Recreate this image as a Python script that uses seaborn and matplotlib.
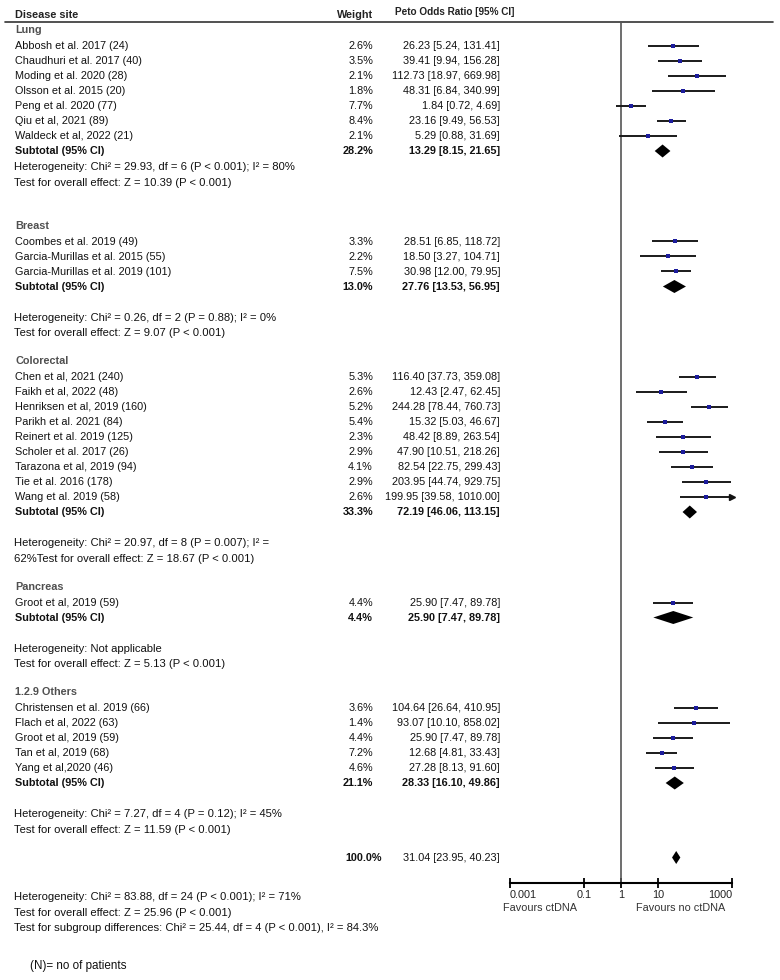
import numpy as np
import pandas as pd
import seaborn as sns
import matplotlib.pyplot as plt
from matplotlib.ticker import NullLocator

# -------------------------------
# Style
# -------------------------------
sns.set_theme(style="white")
plt.rcParams['font.family'] = ['Liberation Sans', 'DejaVu Sans']

# -------------------------------
# Data
# -------------------------------
sites = ["Lung", "Breast", "Colorectal", "Pancreas", "1.2.9 Others"]

study_site = (["Lung"] * 7 + ["Breast"] * 3 + ["Colorectal"] * 9
              + ["Pancreas"] * 1 + ["1.2.9 Others"] * 5)

study_names = [
    "Abbosh et al. 2017 (24)", "Chaudhuri et al. 2017 (40)", "Moding et al. 2020 (28)",
    "Olsson et al. 2015 (20)", "Peng et al. 2020 (77)", "Qiu et al, 2021 (89)",
    "Waldeck et al, 2022 (21)",
    "Coombes et al. 2019 (49)", "Garcia-Murillas et al. 2015 (55)",
    "Garcia-Murillas et al. 2019 (101)",
    "Chen et al, 2021 (240)", "Faikh et al, 2022 (48)", "Henriksen et al, 2019 (160)",
    "Parikh et al. 2021 (84)", "Reinert et al. 2019 (125)", "Scholer et al. 2017 (26)",
    "Tarazona et al, 2019 (94)", "Tie et al. 2016 (178)", "Wang et al. 2019 (58)",
    "Groot et al, 2019 (59)",
    "Christensen et al. 2019 (66)", "Flach et al, 2022 (63)", "Groot et al, 2019 (59)",
    "Tan et al, 2019 (68)", "Yang et al,2020 (46)",
]
study_weight = [2.6, 3.5, 2.1, 1.8, 7.7, 8.4, 2.1,
                3.3, 2.2, 7.5,
                5.3, 2.6, 5.2, 5.4, 2.3, 2.9, 4.1, 2.9, 2.6,
                4.4,
                3.6, 1.4, 4.4, 7.2, 4.6]
study_or = [26.23, 39.41, 112.73, 48.31, 1.84, 23.16, 5.29,
            28.51, 18.50, 30.98,
            116.40, 12.43, 244.28, 15.32, 48.42, 47.90, 82.54, 203.95, 199.95,
            25.90,
            104.64, 93.07, 25.90, 12.68, 27.28]
study_lo = [5.24, 9.94, 18.97, 6.84, 0.72, 9.49, 0.88,
            6.85, 3.27, 12.00,
            37.73, 2.47, 78.44, 5.03, 8.89, 10.51, 22.75, 44.74, 39.58,
            7.47,
            26.64, 10.10, 7.47, 4.81, 8.13]
study_hi = [131.41, 156.28, 669.98, 340.99, 4.69, 56.53, 31.69,
            118.72, 104.71, 79.95,
            359.08, 62.45, 760.73, 46.67, 263.54, 218.26, 299.43, 929.75, 1010.00,
            89.78,
            410.95, 858.02, 89.78, 33.43, 91.60]

sub_weight = [28.2, 13.0, 33.3, 4.4, 21.1]
sub_or = [13.29, 27.76, 72.19, 25.90, 28.33]
sub_lo = [8.15, 13.53, 46.06, 7.47, 16.10]
sub_hi = [21.65, 56.95, 113.15, 89.78, 49.86]

het_text = [
    "Heterogeneity: Chi² = 29.93, df = 6 (P < 0.001); I² = 80%",
    "Heterogeneity: Chi² = 0.26, df = 2 (P = 0.88); I² = 0%",
    "Heterogeneity: Chi² = 20.97, df = 8 (P = 0.007); I² =",
    "Heterogeneity: Not applicable",
    "Heterogeneity: Chi² = 7.27, df = 4 (P = 0.12); I² = 45%",
]
test_text = [
    "Test for overall effect: Z = 10.39 (P < 0.001)",
    "Test for overall effect: Z = 9.07 (P < 0.001)",
    "62%Test for overall effect: Z = 18.67 (P < 0.001)",
    "Test for overall effect: Z = 5.13 (P < 0.001)",
    "Test for overall effect: Z = 11.59 (P < 0.001)",
]

total_weight = 100.0
total_or, total_lo, total_hi = 31.04, 23.95, 40.23
overall_text = [
    "Heterogeneity: Chi² = 83.88, df = 24 (P < 0.001); I² = 71%",
    "Test for overall effect: Z = 25.96 (P < 0.001)",
    "Test for subgroup differences: Chi² = 25.44, df = 4 (P < 0.001), I² = 84.3%",
]
axis_ticks = [0.001, 0.1, 1, 10, 1000]
axis_labels = ["0.001", "0.1", "1", "10", "1000"]

# -------------------------------
# Row layout (pixel rows, top-down)
# -------------------------------
FS = 7.8
FS_STAT = 8.1
ROW = 15.0
df = pd.DataFrame({"site": study_site, "study": study_names, "weight": study_weight,
                   "or": study_or, "lo": study_lo, "hi": study_hi})

y = 30.0
header_y, sub_y, het_y, test_y, study_y = [], [], [], [], []
for i, site in enumerate(sites):
    header_y.append(y)
    n = (df["site"] == site).sum()
    first = y + 16
    study_y += [first + ROW * k for k in range(n)]
    sub_y.append(first + ROW * n)
    het_y.append(sub_y[-1] + (16 if i == 0 else 31))
    test_y.append(het_y[-1] + 15.5)
    y = test_y[-1] + (43 if i == 0 else 28)
df["y"] = study_y
total_y = y
AX_Y = 883
TOP_Y = 22
XMIN, XMAX = axis_ticks[0], axis_ticks[-1]

# -------------------------------
# Figure
# -------------------------------
fig = plt.figure(figsize=(7.8, 9.8), dpi=100)
bax = fig.add_axes([0, 0, 1, 1])
bax.set_xlim(0, 780)
bax.set_ylim(980, 0)
bax.axis("off")


def put(x, yy, s, **kw):
    kw.setdefault("fontsize", FS)
    kw.setdefault("va", "center")
    kw.setdefault("color", "#111111")
    bax.text(x, yy, s, **kw)


def ci_label(o, l, h):
    return f"{o:.2f} [{l:.2f}, {h:.2f}]"


# header
put(15, 15, "Disease site", fontweight="bold", color="#222222")
put(355, 15, "Weight", ha="center", fontweight="bold", color="#222222")
put(395, 12, "Peto Odds Ratio [95% CI]", fontsize=7.2, fontweight="bold", color="#222222")
bax.plot([5, 773], [TOP_Y, TOP_Y], color="#333333", lw=1.2)

WX, ORX = 373, 500
for i, site in enumerate(sites):
    put(15, header_y[i], site, fontweight="bold", color="#505050")
    put(15, sub_y[i], "Subtotal (95% CI)", fontweight="bold")
    put(WX, sub_y[i], f"{sub_weight[i]:.1f}%", ha="right", fontweight="bold")
    put(ORX, sub_y[i], ci_label(sub_or[i], sub_lo[i], sub_hi[i]), ha="right", fontweight="bold")
    put(14, het_y[i], het_text[i], fontsize=FS_STAT)
    put(14, test_y[i], test_text[i], fontsize=FS_STAT)

for _, r in df.iterrows():
    put(15, r["y"], r["study"])
    put(WX, r["y"], f"{r['weight']:.1f}%", ha="right")
    put(ORX, r["y"], ci_label(r["or"], r["lo"], r["hi"]), ha="right")

put(382, total_y, f"{total_weight:.1f}%", ha="right", fontweight="bold")
put(ORX, total_y, ci_label(total_or, total_lo, total_hi), ha="right")

for k, t in enumerate(overall_text):
    put(14, 897 + 15.5 * k, t, fontsize=FS_STAT)
put(30, 966, "(N)= no of patients", fontsize=8.4)

put(540, 908, "Favours ctDNA", ha="center", color="#333333")
put(681, 908, "Favours no ctDNA", ha="center", color="#333333")

# -------------------------------
# Forest panel
# -------------------------------
fax = fig.add_axes([510 / 780, (980 - AX_Y) / 980, 222 / 780, (AX_Y - TOP_Y) / 980])
fax.patch.set_alpha(0)
fax.set_xscale("log")
fax.set_xlim(XMIN, XMAX)
fax.set_ylim(AX_Y, TOP_Y)

fax.axvline(1, color="#555555", lw=1.2, zorder=1)

df["hi_clip"] = df["hi"].clip(upper=XMAX)
fax.hlines(df["y"], df["lo"], df["hi_clip"], color="#1a1a1a", lw=1.4, zorder=2)
over = df[df["hi"] > XMAX]
fax.plot(over["hi_clip"], over["y"], marker=">", ms=5, color="#111111",
         linestyle="none", clip_on=False, zorder=3)

sns.scatterplot(data=df, x="or", y="y", marker="s", s=7, color="#1c1c9c",
                linewidth=0, ax=fax, zorder=4, legend=False)

H = 6.5
for o, l, h, yy in zip(sub_or + [total_or], sub_lo + [total_lo],
                       sub_hi + [total_hi], sub_y + [total_y]):
    fax.fill([l, o, h, o], [yy, yy - H, yy, yy + H], color="black", lw=0, zorder=3)

for side in ["top", "left", "right"]:
    fax.spines[side].set_visible(False)
fax.spines["bottom"].set_color("black")
fax.spines["bottom"].set_linewidth(1.5)
fax.set_yticks([])
fax.set_xticks(axis_ticks)
fax.set_xticklabels(axis_labels)
fax.xaxis.set_minor_locator(NullLocator())
fax.tick_params(axis="x", bottom=True, direction="inout", length=7, width=1.3,
                color="black", labelsize=FS, labelcolor="#222222", pad=1.5)
labels = fax.get_xticklabels()
labels[0].set_ha("left")
labels[-1].set_ha("right")
fax.set_xlabel("")
fax.set_ylabel("")

plt.savefig("out.png", dpi=100)
plt.close()
